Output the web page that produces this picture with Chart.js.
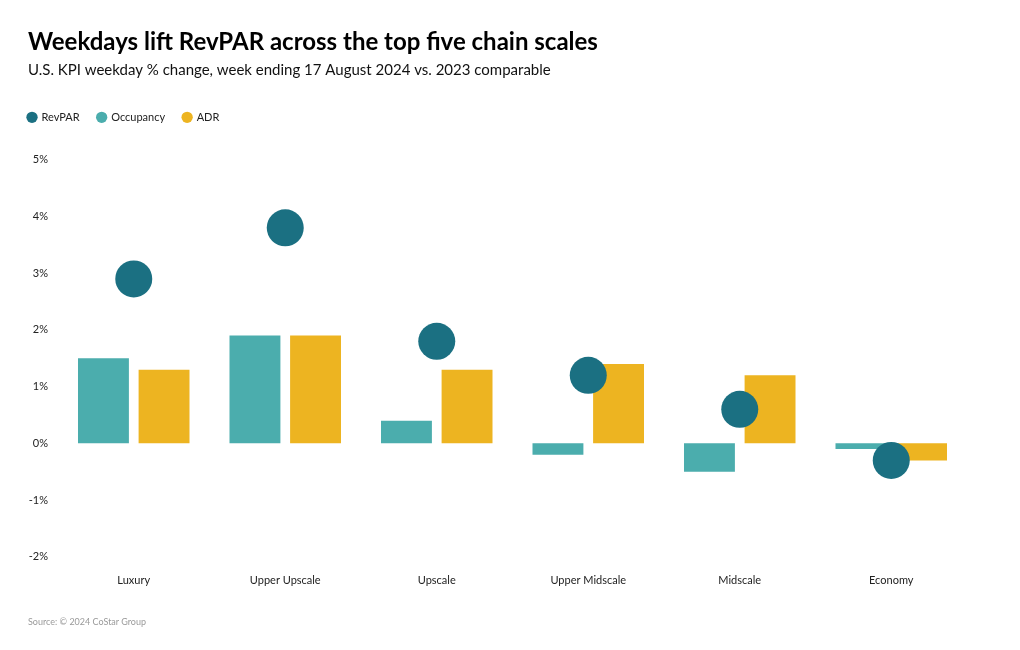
<!DOCTYPE html>
<html>
<head>
<meta charset="utf-8">
<script src="https://cdn.jsdelivr.net/npm/chart.js@4"></script>
<style>
  body { margin: 0; background: #fff; }
  #wrap { position: relative; width: 1020px; height: 650px; }
  #source { position: absolute; left: 28px; top: 616px; font: 9px Lato, sans-serif; color: #9a9a9a; }
</style>
</head>
<body>
<div id="wrap">
  <canvas id="chart" width="1020" height="650"></canvas>
  <div id="source">Source: © 2024 CoStar Group</div>
</div>
<script>
//! Data

const categories = ["Luxury", "Upper Upscale", "Upscale", "Upper Midscale", "Midscale", "Economy"];
const revpar = [2.9, 3.8, 1.8, 1.2, 0.6, -0.3];
const occupancy = [1.5, 1.9, 0.4, -0.2, -0.5, -0.1];
const adr = [1.3, 1.9, 1.3, 1.4, 1.2, -0.3];
const yTicks = [-2, -1, 0, 1, 2, 3, 4, 5];

//! Chart JS

const fontFamily = "Lato, 'Noto Sans', sans-serif";
Chart.defaults.font.family = fontFamily;
Chart.defaults.color = "#222";

const legendPadding = 18;

// pull the legend flush left and leave room under it
const legendTweak = {
  id: "legendTweak",
  beforeLayout(c) {
    const lg = c.legend;
    if (lg && !lg._patched) {
      const fit = lg.fit.bind(lg);
      lg.fit = function () {
        fit();
        this.height += 27;
      };
      lg._patched = true;
    }
  },
  afterLayout(c) {
    c.legend.left -= legendPadding;
    c.legend.right -= legendPadding;
  },
};

const chart = document.getElementById("chart");

new Chart(chart, {
  data: {
    labels: categories,
    datasets: [
      {
        type: "line",
        label: "RevPAR",
        data: revpar,
        showLine: false,
        pointRadius: 18.5,
        pointHoverRadius: 18.5,
        pointBackgroundColor: "#1B7082",
        pointBorderWidth: 0,
        backgroundColor: "#1B7082",
        borderColor: "#1B7082",
        order: 0,
      },
      {
        type: "bar",
        label: "Occupancy",
        data: occupancy,
        backgroundColor: "#4BADAD",
        categoryPercentage: 0.8,
        barPercentage: 0.84,
        order: 1,
      },
      {
        type: "bar",
        label: "ADR",
        data: adr,
        backgroundColor: "#EDB421",
        categoryPercentage: 0.8,
        barPercentage: 0.84,
        order: 2,
      },
    ],
  },
  plugins: [legendTweak],
  options: {
    responsive: false,
    animation: false,
    layout: {
      padding: { top: 28, left: 28, right: 53, bottom: 46 },
    },
    plugins: {
      title: {
        display: true,
        text: "Weekdays lift RevPAR across the top five chain scales",
        align: "start",
        color: "#000",
        font: { size: 24, weight: "bold" },
        padding: { top: 0, bottom: 4 },
      },
      subtitle: {
        display: true,
        text: "U.S. KPI weekday % change, week ending 17 August 2024 vs. 2023 comparable",
        align: "start",
        color: "#111",
        font: { size: 15 },
        padding: { top: 0, bottom: 15 },
      },
      legend: {
        display: true,
        align: "start",
        labels: {
          usePointStyle: true,
          pointStyle: "circle",
          boxWidth: 8,
          boxHeight: 8,
          padding: legendPadding,
          color: "#222",
          font: { size: 11 },
        },
      },
      tooltip: { enabled: false },
    },
    scales: {
      x: {
        grid: { display: false, drawTicks: false },
        border: { display: false },
        ticks: { padding: 17, font: { size: 11 }, color: "#222" },
      },
      y: {
        min: yTicks[0],
        max: yTicks[yTicks.length - 1],
        afterBuildTicks: (axis) => {
          axis.ticks = yTicks.map((v) => ({ value: v }));
        },
        afterFit: (axis) => {
          axis.width = 30;
        },
        grid: { display: false, drawTicks: false },
        border: { display: false },
        ticks: {
          padding: 10,
          font: { size: 11 },
          color: "#222",
          callback: (v) => v + "%",
        },
      },
    },
  },
});
</script>
</body>
</html>
